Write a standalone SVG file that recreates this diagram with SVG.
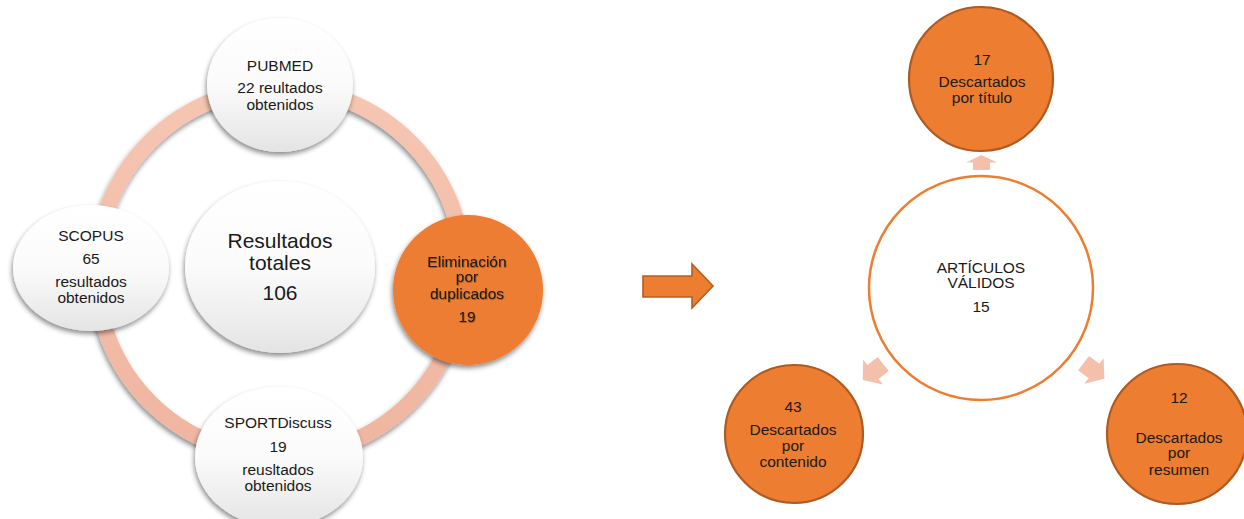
<svg xmlns="http://www.w3.org/2000/svg" width="1244" height="519" viewBox="0 0 1244 519">
<defs>
<linearGradient id="wg" x1="0" y1="0" x2="0" y2="1">
<stop offset="0" stop-color="#ffffff"/>
<stop offset="0.5" stop-color="#fbfbfb"/>
<stop offset="1" stop-color="#e4e4e4"/>
</linearGradient>
<linearGradient id="rg" x1="0" y1="0" x2="0" y2="1">
<stop offset="0" stop-color="#f6c6b2"/>
<stop offset="1" stop-color="#efb5a0"/>
</linearGradient>
<filter id="sh" x="-20%" y="-20%" width="140%" height="140%">
<feDropShadow dx="-1" dy="3" stdDeviation="2.5" flood-color="#000" flood-opacity="0.45"/>
</filter>
<filter id="tsh" x="-10%" y="-10%" width="120%" height="130%">
<feDropShadow dx="0.6" dy="0.8" stdDeviation="0.6" flood-color="#000" flood-opacity="0.35"/>
</filter>
</defs>
<style>
text{font-family:"Liberation Sans",Arial,sans-serif;font-size:15.5px;fill:#1a1a1a;text-anchor:middle}
.big{font-size:21px}
.wn{fill:url(#wg);filter:url(#sh)}
.on{fill:#ed7d31;stroke:#ae5a21;stroke-width:2.2}
.la{fill:#f4c0ac}
</style>
<rect width="1244" height="519" fill="#fff"/>
<g id="connectors">
<circle cx="280" cy="272" r="184" fill="none" stroke="url(#rg)" stroke-width="16" filter="url(#sh)"/>
<path d="M643,276 L692,276 L692,264 L713,286 L692,308 L692,297 L643,297 Z" fill="#ed7d31" stroke="#b55d22" stroke-width="1.6"/>
<path class="la" d="M-7.5,-8.5 L0,-8.5 L0,-15.5 L7.5,0 L0,15.5 L0,8.5 L-7.5,8.5 Z" transform="translate(981.5,162.5) rotate(-90)"/>
<path class="la" d="M-13,-9 L0,-9 L0,-16 L13,0 L0,16 L0,9 L-13,9 Z" transform="translate(873,372) rotate(142)"/>
<path class="la" d="M-13,-9 L0,-9 L0,-16 L13,0 L0,16 L0,9 L-13,9 Z" transform="translate(1094,371) rotate(37)"/>
</g>
<g id="pubmed">
<ellipse class="wn" cx="280" cy="85" rx="73" ry="67"/>
<text x="280" y="71">PUBMED</text>
<text x="280" y="93">22 reultados</text>
<text x="280" y="110">obtenidos</text>
</g>
<g id="scopus">
<ellipse class="wn" cx="91" cy="268" rx="78" ry="63"/>
<text x="91" y="241">SCOPUS</text>
<text x="91" y="264">65</text>
<text x="91" y="287">resultados</text>
<text x="91" y="303">obtenidos</text>
</g>
<g id="sportdiscuss">
<ellipse class="wn" cx="279" cy="457" rx="84" ry="70"/>
<text x="278" y="428">SPORTDiscuss</text>
<text x="278" y="452">19</text>
<text x="278" y="475">reusltados</text>
<text x="278" y="491">obtenidos</text>
</g>
<g id="total">
<ellipse class="wn" cx="280" cy="267" rx="95" ry="86"/>
<text class="big" x="280" y="248">Resultados</text>
<text class="big" x="280" y="270">totales</text>
<text class="big" x="280" y="300">106</text>
</g>
<g id="eliminacion">
<circle cx="468" cy="290" r="75" fill="#ed7d31" filter="url(#sh)"/>
<g filter="url(#tsh)">
<text x="467" y="267">Eliminación</text>
<text x="467" y="282">por</text>
<text x="467" y="299">duplicados</text>
<text x="467" y="322">19</text>
</g>
</g>
<g id="validos">
<circle cx="981" cy="288" r="112" fill="#fff" stroke="#ed7d31" stroke-width="2.5"/>
<text x="981" y="273">ARTÍCULOS</text>
<text x="981" y="288">VÁLIDOS</text>
<text x="981" y="312">15</text>
</g>
<g id="titulo">
<circle class="on" cx="981" cy="79" r="72"/>
<text x="982" y="65">17</text>
<text x="982" y="87">Descartados</text>
<text x="982" y="103">por título</text>
</g>
<g id="contenido">
<circle class="on" cx="794" cy="434" r="69"/>
<text x="793" y="412">43</text>
<text x="793" y="435">Descartados</text>
<text x="793" y="451">por</text>
<text x="793" y="467">contenido</text>
</g>
<g id="resumen">
<circle class="on" cx="1177" cy="434" r="70"/>
<text x="1179" y="403">12</text>
<text x="1179" y="443">Descartados</text>
<text x="1179" y="458">por</text>
<text x="1179" y="475">resumen</text>
</g>
</svg>
